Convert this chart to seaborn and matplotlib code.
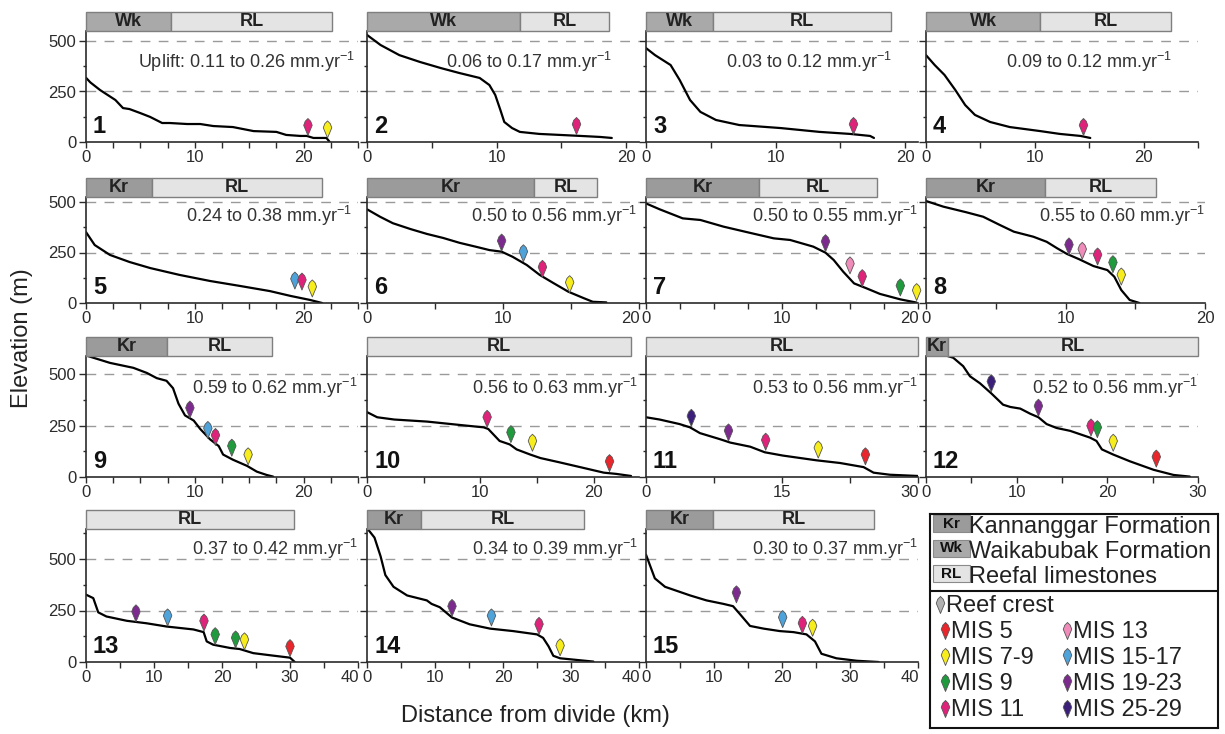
import matplotlib
matplotlib.use("Agg")
import matplotlib.pyplot as plt
import matplotlib.transforms as mtransforms
from matplotlib.path import Path
from matplotlib.patches import Rectangle
from matplotlib.ticker import MultipleLocator, FuncFormatter
import seaborn as sns
import pandas as pd

# river profiles: distance from divide (km) / elevation (m)
km_1 = [0, 0.4, 1.3, 2.7, 3.4, 4.0, 5.0, 5.9, 7.0, 7.7, 9.3, 10.5, 11.7, 13.5, 15.4, 17.5, 18.4, 19.7, 20.3, 20.9, 22.1, 22.4]
m_1 = [318, 295, 257, 208, 168, 163, 143, 124, 94, 94, 89, 89, 79, 74, 54, 50, 35, 30, 30, 20, 20, 0]
km_2 = [0, 1.05, 2.5, 4.1, 5.7, 7.1, 8.7, 9.45, 9.9, 10.3, 10.6, 11.2, 11.8, 13.3, 14.9, 16.5, 18.0, 18.9]
m_2 = [530, 480, 430, 396, 366, 342, 317, 282, 233, 158, 99, 69, 50, 40, 35, 30, 25, 20]
km_3 = [0, 0.7, 1.9, 2.6, 3.4, 4.2, 5.4, 7.2, 10.4, 13.4, 15.75, 17.3, 17.6]
m_3 = [465, 430, 381, 307, 208, 149, 109, 84, 69, 50, 40, 30, 20]
km_4 = [0, 0.8, 1.7, 2.7, 3.6, 4.5, 5.9, 7.7, 10.5, 12.3, 14.2, 15.1]
m_4 = [430, 381, 332, 257, 183, 134, 99, 74, 54, 40, 30, 20]
km_5 = [0, 0.8, 2.2, 4.0, 5.9, 8.6, 11.4, 14.2, 16.9, 18.8, 19.7, 20.6, 21.7]
m_5 = [351, 287, 238, 203, 173, 139, 109, 84, 59, 35, 25, 15, 0]
km_6 = [0, 0.96, 1.9, 3.2, 4.4, 5.6, 6.8, 8.1, 9.0, 9.9, 10.7, 11.75, 12.7, 13.7, 14.8, 15.9, 16.6, 17.6]
m_6 = [464, 427, 395, 366, 342, 322, 298, 277, 262, 254, 229, 188, 139, 99, 56, 25, 6, 3]
km_7 = [0, 1.0, 2.7, 4.0, 5.7, 7.6, 9.4, 10.6, 12.3, 13.2, 13.8, 14.5, 15.3, 16.2, 17.2, 18.7, 19.9]
m_7 = [493, 464, 419, 411, 378, 348, 320, 312, 279, 249, 213, 155, 97, 73, 45, 18, 2]
km_8 = [0, 1.24, 2.9, 4.1, 5.3, 6.3, 7.7, 8.65, 9.4, 10.1, 11.0, 12.0, 13.0, 13.5, 14.0, 14.6, 15.3]
m_8 = [505, 477, 449, 427, 386, 353, 328, 303, 271, 243, 216, 183, 163, 130, 64, 15, 0]
km_9 = [0, 0.67, 2.2, 4.35, 5.6, 6.5, 7.4, 8.0, 8.5, 9.1, 9.9, 10.5, 11.4, 12.2, 12.6, 13.5, 14.8, 15.7, 16.6, 17.2]
m_9 = [590, 579, 554, 530, 505, 480, 467, 431, 356, 299, 274, 233, 183, 150, 109, 84, 54, 26, 10, 2]
km_10 = [0, 0.9, 2.4, 5.3, 8.3, 10.3, 10.7, 11.7, 12.6, 13.2, 14.4, 15.3, 17.0, 18.8, 20.9, 22.0, 23.3]
m_10 = [315, 290, 279, 269, 252, 241, 233, 175, 158, 134, 109, 92, 71, 48, 21, 15, 5]
km_11 = [0, 1.5, 3.7, 4.85, 5.95, 8.2, 9.3, 11.5, 13.1, 15.1, 18.8, 21.4, 24.0, 25.1, 26.9, 30.0]
m_11 = [290, 279, 257, 241, 213, 183, 167, 147, 120, 104, 81, 68, 48, 21, 11, 5]
km_12 = [0, 1.5, 3.0, 4.1, 4.85, 5.95, 7.2, 8.5, 9.3, 10.4, 11.5, 12.4, 13.3, 14.4, 15.9, 18.1, 18.8, 19.4, 20.65, 22.5, 25.1, 27.3, 29.1]
m_12 = [620, 599, 579, 538, 489, 455, 406, 351, 340, 332, 307, 290, 257, 238, 224, 191, 175, 134, 109, 76, 35, 10, 2]
km_13 = [0, 1.07, 1.8, 3.0, 6.0, 8.9, 11.9, 15.8, 17.3, 17.75, 18.7, 21.2, 22.6, 24.6, 27.5, 30.0, 30.7]
m_13 = [327, 310, 241, 221, 200, 188, 172, 158, 145, 100, 84, 68, 63, 43, 31, 21, 0]
km_14 = [0, 1.1, 2.0, 2.7, 3.9, 5.9, 8.8, 9.5, 10.7, 12.5, 15.1, 18.1, 21.5, 25.0, 25.9, 26.7, 27.4, 28.4, 33.3]
m_14 = [650, 604, 513, 422, 365, 323, 299, 282, 266, 216, 183, 162, 150, 134, 117, 76, 30, 18, 2]
km_15 = [0, 1.3, 2.8, 6.5, 8.9, 11.4, 12.8, 13.8, 15.3, 17.3, 19.7, 21.7, 23.6, 24.85, 25.8, 28.0, 31.0, 34.2]
m_15 = [521, 406, 365, 323, 299, 282, 271, 233, 175, 162, 150, 145, 134, 100, 40, 18, 6, 0]

profiles_km = [km_1, km_2, km_3, km_4, km_5, km_6, km_7, km_8, km_9, km_10, km_11, km_12, km_13, km_14, km_15]
profiles_m = [m_1, m_2, m_3, m_4, m_5, m_6, m_7, m_8, m_9, m_10, m_11, m_12, m_13, m_14, m_15]

# reef crests (marker tip sits on the profile)
crest_panel = [1, 1, 2, 3, 4, 5, 5, 5, 6, 6, 6, 6, 7, 7, 7, 7, 7, 8, 8, 8, 8, 8,
               9, 9, 9, 9, 9, 10, 10, 10, 10, 11, 11, 11, 11, 11,
               12, 12, 12, 12, 12, 12, 13, 13, 13, 13, 13, 13, 13,
               14, 14, 14, 14, 15, 15, 15, 15]
crest_km = [20.4, 22.2, 16.1, 16.0, 14.4, 19.2, 19.85, 20.8, 9.9, 11.5, 12.9, 14.9,
            13.2, 15.0, 15.9, 18.7, 19.9, 10.25, 11.2, 12.3, 13.4, 14.0,
            9.55, 11.2, 11.9, 13.4, 14.9, 10.6, 12.7, 14.6, 21.4, 5.0, 9.1, 13.2, 19.0, 24.2,
            7.2, 12.4, 18.2, 18.9, 20.65, 25.4, 7.35, 12.0, 17.35, 19.0, 22.0, 23.3, 30.0,
            12.5, 18.3, 25.3, 28.4, 13.3, 20.1, 23.0, 24.5]
crest_m = [32, 20, 38, 42, 35, 69, 64, 30, 257, 204, 127, 51,
           254, 144, 81, 35, 12, 238, 216, 188, 150, 89,
           286, 187, 153, 101, 59, 241, 167, 125, 26, 246, 175, 130, 92, 59,
           414, 295, 199, 191, 125, 48, 195, 175, 150, 84, 68, 59, 26,
           221, 175, 134, 30, 287, 167, 139, 125]
crest_mis = ['MIS 11', 'MIS 7-9', 'MIS 11', 'MIS 11', 'MIS 11',
             'MIS 15-17', 'MIS 11', 'MIS 7-9',
             'MIS 19-23', 'MIS 15-17', 'MIS 11', 'MIS 7-9',
             'MIS 19-23', 'MIS 13', 'MIS 11', 'MIS 9', 'MIS 7-9',
             'MIS 19-23', 'MIS 13', 'MIS 11', 'MIS 9', 'MIS 7-9',
             'MIS 19-23', 'MIS 15-17', 'MIS 11', 'MIS 9', 'MIS 7-9',
             'MIS 11', 'MIS 9', 'MIS 7-9', 'MIS 5',
             'MIS 25-29', 'MIS 19-23', 'MIS 11', 'MIS 7-9', 'MIS 5',
             'MIS 25-29', 'MIS 19-23', 'MIS 11', 'MIS 9', 'MIS 7-9', 'MIS 5',
             'MIS 19-23', 'MIS 15-17', 'MIS 11', 'MIS 9', 'MIS 9', 'MIS 7-9', 'MIS 5',
             'MIS 19-23', 'MIS 15-17', 'MIS 11', 'MIS 7-9',
             'MIS 19-23', 'MIS 15-17', 'MIS 11', 'MIS 7-9']

mis_levels = ['MIS 5', 'MIS 7-9', 'MIS 9', 'MIS 11', 'MIS 13', 'MIS 15-17', 'MIS 19-23', 'MIS 25-29']
mis_colors = ['#e8262b', '#f7ec1c', '#1f9a3c', '#e0237a', '#f08cba', '#4ea3da', '#7d2a8e', '#3b1f7a']

# geology bars above each panel
bar_panel = [1, 1, 2, 2, 3, 3, 4, 4, 5, 5, 6, 6, 7, 7, 8, 8, 9, 9, 10, 11, 12, 12, 13, 14, 14, 15, 15]
bar_unit = ['Wk', 'RL', 'Wk', 'RL', 'Wk', 'RL', 'Wk', 'RL', 'Kr', 'RL', 'Kr', 'RL', 'Kr', 'RL',
            'Kr', 'RL', 'Kr', 'RL', 'RL', 'RL', 'Kr', 'RL', 'RL', 'Kr', 'RL', 'Kr', 'RL']
bar_start = [0, 7.8, 0, 11.8, 0, 5.2, 0, 10.5, 0, 6.1, 0, 12.3, 0, 8.3, 0, 8.5, 0, 7.45,
             0, 0, 0, 2.4, 0, 0, 7.9, 0, 9.85]
bar_end = [7.8, 22.6, 11.8, 18.7, 5.2, 18.9, 10.5, 22.5, 6.1, 21.7, 12.3, 16.9, 8.3, 17.0,
           8.5, 16.5, 7.45, 17.1, 23.3, 30.0, 2.4, 30.0, 30.6, 7.9, 31.9, 9.85, 33.5]
unit_colors = {'Kr': '#9b9b9b', 'Wk': '#a9a9a9', 'RL': '#e4e4e4'}
unit_names = {'Kr': 'Kannanggar Formation', 'Wk': 'Waikabubak Formation', 'RL': 'Reefal limestones'}

uplift = ['0.11 to 0.26', '0.06 to 0.17', '0.03 to 0.12', '0.09 to 0.12',
          '0.24 to 0.38', '0.50 to 0.56', '0.50 to 0.55', '0.55 to 0.60',
          '0.59 to 0.62', '0.56 to 0.63', '0.53 to 0.56', '0.52 to 0.56',
          '0.37 to 0.42', '0.34 to 0.39', '0.30 to 0.37']

x_max = [25, 21, 21, 25, 25, 20, 20, 20, 25, 24, 30, 30, 40, 40, 40]
x_minor = [2.5, 5, 5, 5, 2.5, 5, 2.5, 5, 2.5, 5, 7.5, 5, 5, 5, 5]
x_major = [10, 10, 10, 10, 10, 10, 10, 10, 10, 10, 15, 10, 10, 10, 10]

prof = pd.DataFrame({
    'panel': [i + 1 for i, k in enumerate(profiles_km) for _ in k],
    'km': [v for k in profiles_km for v in k],
    'm': [v for mm in profiles_m for v in mm],
})
crests = pd.DataFrame({'panel': crest_panel, 'km': crest_km, 'm': crest_m, 'mis': crest_mis})
bars = pd.DataFrame({'panel': bar_panel, 'unit': bar_unit, 'start': bar_start, 'end': bar_end})

sns.set_style("ticks")
plt.rcParams['font.family'] = ['Liberation Sans', 'DejaVu Sans']
plt.rcParams['mathtext.fontset'] = 'custom'
plt.rcParams['mathtext.rm'] = 'Liberation Sans'
plt.rcParams['mathtext.it'] = 'Liberation Sans:italic'
plt.rcParams['mathtext.bf'] = 'Liberation Sans:bold'

# reef-crest "kite" marker, tip at the data point
kite = Path([(0, 0), (-0.25, 0.6), (-0.16, 0.84), (0, 1), (0.16, 0.84), (0.25, 0.6), (0, 0)],
            [Path.MOVETO] + [Path.LINETO] * 5 + [Path.CLOSEPOLY])
palette = dict(zip(mis_levels, mis_colors))

W, H = 1225, 734
fig = plt.figure(figsize=(W / 100, H / 100), dpi=100)

col_left = [86, 367, 646, 926]
row_zero = [142, 303, 477, 662]
row_top = [31, 197, 356, 529]
row_scale = [101 / 500, 101 / 500, 103 / 500, 103 / 500]
text_base = [68, 222, 394, 555]
text_right = [355, 612, 892, 1172, 352, 637, 918, 1205, 358, 638, 918, 1198, 358, 638, 918]
ink = '#2b2b2b'
tick_fs = 12

for i in range(15):
    p = i + 1
    r, c = divmod(i, 4)
    wpx = 279 if p == 8 else 272
    hpx = row_zero[r] - row_top[r]
    ax = fig.add_axes([col_left[c] / W, 1 - row_zero[r] / H, wpx / W, hpx / H])
    ax.set_xlim(0, x_max[i])
    ax.set_ylim(0, hpx / row_scale[r])

    for yv in (250, 500):
        ax.axhline(yv, color='#9a9a9a', lw=1, ls=(0, (7, 6)), zorder=0)

    sns.lineplot(data=prof[prof.panel == p], x='km', y='m', ax=ax, color='black',
                 lw=1.6, estimator=None, sort=False, zorder=2)
    sns.scatterplot(data=crests[crests.panel == p], x='km', y='m', hue='mis',
                    palette=palette, marker=kite, s=600, edgecolor='#555555',
                    linewidth=0.6, legend=False, ax=ax, zorder=4, clip_on=False)

    sns.despine(ax=ax)
    for s in ('left', 'bottom'):
        ax.spines[s].set_color(ink)
        ax.spines[s].set_linewidth(1.2)
    ax.xaxis.set_major_locator(MultipleLocator(x_major[i]))
    ax.xaxis.set_minor_locator(MultipleLocator(x_minor[i]))
    ax.yaxis.set_major_locator(MultipleLocator(250))
    ax.yaxis.set_minor_locator(MultipleLocator(125))
    ax.tick_params(axis='x', which='both', length=4, width=1, color=ink,
                   labelsize=tick_fs, labelcolor=ink, pad=2)
    ax.tick_params(axis='y', which='major', length=5, width=1, color=ink,
                   labelsize=tick_fs, labelcolor=ink, pad=2)
    ax.tick_params(axis='y', which='minor', length=2.5, width=1, color=ink)
    if c != 0:
        ax.tick_params(axis='y', labelleft=False)

    # the last label sits a little inside the axis end, clear of the next panel
    end_lab = c < 3 and x_max[i] % x_major[i] == 0
    if end_lab:
        xm = x_max[i]
        ax.xaxis.set_major_formatter(FuncFormatter(
            lambda v, pos, xm=xm: '' if abs(v - xm) < 1e-6 else f'{v:g}'))
        ax.annotate(f'{xm:g}', xy=(1, 0), xycoords='axes fraction', xytext=(-6, -6),
                    textcoords='offset points', ha='center', va='top',
                    fontsize=tick_fs, color=ink)
    ax.set_xlabel('')
    ax.set_ylabel('')

    # geology bar above the axes
    trans = mtransforms.blended_transform_factory(ax.transData, ax.transAxes)
    bh = 19 / hpx
    for _, b in bars[bars.panel == p].iterrows():
        ax.add_patch(Rectangle((b.start, 1), b.end - b.start, bh, transform=trans,
                               facecolor=unit_colors[b.unit], edgecolor='#7f7f7f',
                               lw=1, clip_on=False, zorder=5))
        ax.text((b.start + b.end) / 2, 1 + bh / 2, b.unit, transform=trans, ha='center',
                va='center', fontsize=13, fontweight='bold', color='#222222', zorder=6)

    ax.annotate(str(p), xy=(0, 0), xycoords='axes fraction', xytext=(7, 4),
                textcoords='offset pixels', ha='left', va='bottom', fontsize=17,
                fontweight='bold', color='#111111')
    label = ('Uplift: ' if p == 1 else '') + uplift[i] + r' mm.yr$^{-1}$'
    fig.text(text_right[i] / W, 1 - text_base[r] / H, label, ha='right',
             va='baseline', fontsize=13, color='#333333')

fig.text(22 / W, 1 - 338 / H, 'Elevation (m)', rotation=90, ha='center', va='center',
         fontsize=17, color='#222222')
fig.text(535 / W, 1 - 716 / H, 'Distance from divide (km)', ha='center', va='center',
         fontsize=17, color='#222222')

# legend box (coordinates in pixels from its top-left corner)
lx0, ly0, lw_, lh_ = 930, 514, 288, 214
lg = fig.add_axes([lx0 / W, 1 - (ly0 + lh_) / H, lw_ / W, lh_ / H])
lg.set_xlim(0, lw_)
lg.set_ylim(lh_, 0)
lg.set_xticks([])
lg.set_yticks([])
for s in lg.spines.values():
    s.set_linewidth(1.5)
    s.set_color('#111111')
lg.axhline(77, color='#111111', lw=1.5)

for k, u in enumerate(['Kr', 'Wk', 'RL']):
    base = 533 - ly0 + 25 * k
    lg.add_patch(Rectangle((3, base - 18), 37, 17, facecolor=unit_colors[u],
                           edgecolor='#8a8a8a', lw=0.8))
    lg.text(21.5, base - 9.5, u, ha='center', va='center', fontsize=11,
            fontweight='bold', color='#111111')
    lg.text(39, base, unit_names[u], ha='left', va='baseline', fontsize=17, color='#222222')

leg_names = ['Reef crest'] + mis_levels
leg_cols = ['#b0b0b0'] + mis_colors
leg_x = [10, 15, 15, 15, 15, 137, 137, 137, 137]
leg_base = [612, 638, 664, 690, 716, 638, 664, 690, 716]
for name, col, x, b in zip(leg_names, leg_cols, leg_x, leg_base):
    yb = b - ly0
    lg.scatter([x], [yb + 1], marker=kite, s=600, c=col, edgecolors='#555555',
               linewidths=0.6, zorder=3)
    lg.text(x + 6, yb, name, ha='left', va='baseline', fontsize=17, color='#222222')

fig.savefig('out.png', dpi=100)
